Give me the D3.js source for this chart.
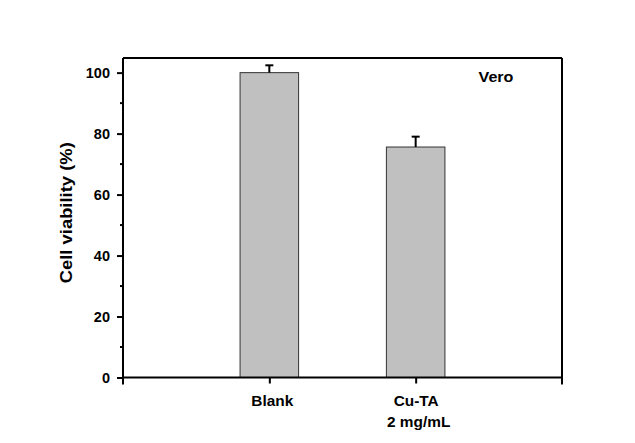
<!DOCTYPE html>
<html>
<head>
<meta charset="utf-8">
<script src="https://cdn.jsdelivr.net/npm/d3@7"></script>
<style>
  html, body { margin: 0; padding: 0; background: #fff; }
  svg { display: block; font-family: Arial, "Liberation Sans", sans-serif; }
</style>
</head>
<body>
<svg id="chart" width="635" height="443"></svg>
<script>
// Cell viability data
const categories = ["Blank", "Cu-TA\n2 mg/mL"];
const positions = [1, 2];
const viability = [100, 75.6];
const errors = [2.4, 3.4];
const yTicks = [0, 20, 40, 60, 80, 100];
const yMinorTicks = [10, 30, 50, 70, 90];

const svg = d3.select("#chart");
const plotLeft = 123, plotRight = 562, plotTop = 58, plotBottom = 377.5;

const x = d3.scaleLinear().domain([0, 3]).range([plotLeft, plotRight]);
const y = d3.scaleLinear().domain([0, 104.8]).range([plotBottom, plotTop]);
const barW = x(0.4) - x(0);

// Bars
svg.selectAll("rect.bar")
  .data(viability)
  .join("rect")
  .attr("class", "bar")
  .attr("x", (d, i) => x(positions[i]) - barW / 2)
  .attr("y", d => y(d))
  .attr("width", barW)
  .attr("height", d => y(0) - y(d))
  .attr("fill", "#c0c0c0")
  .attr("stroke", "#333")
  .attr("stroke-width", 1);

// Error bars (upper half only)
const eb = svg.append("g").attr("stroke", "#000").attr("stroke-width", 2);
viability.forEach((v, i) => {
  const cx = x(positions[i]);
  eb.append("line").attr("x1", cx).attr("x2", cx).attr("y1", y(v)).attr("y2", y(v + errors[i]));
  eb.append("line").attr("x1", cx - 4).attr("x2", cx + 4).attr("y1", y(v + errors[i])).attr("y2", y(v + errors[i]));
});

// Frame: top and right
svg.append("line").attr("x1", plotLeft).attr("x2", plotRight).attr("y1", plotTop).attr("y2", plotTop)
  .attr("stroke", "#000").attr("stroke-width", 2);
svg.append("line").attr("x1", plotRight).attr("x2", plotRight).attr("y1", plotTop).attr("y2", plotBottom + 7)
  .attr("stroke", "#000").attr("stroke-width", 2);

// Left axis
const yAxis = svg.append("g").attr("transform", `translate(${plotLeft},0)`)
  .call(d3.axisLeft(y).tickValues(yTicks).tickSize(6).tickPadding(7).tickFormat(d3.format("d")));
yAxis.select(".domain").remove();
yAxis.selectAll(".tick line").attr("stroke", "#000").attr("stroke-width", 2);
yAxis.selectAll(".tick text").attr("font-size", 14.5).attr("font-weight", "bold").attr("fill", "#000");
svg.append("g").selectAll("line").data(yMinorTicks).join("line")
  .attr("x1", plotLeft - 3).attr("x2", plotLeft).attr("y1", d => y(d)).attr("y2", d => y(d))
  .attr("stroke", "#000").attr("stroke-width", 2);
svg.append("line").attr("x1", plotLeft).attr("x2", plotLeft).attr("y1", plotTop).attr("y2", plotBottom + 7)
  .attr("stroke", "#000").attr("stroke-width", 2);

// Bottom axis
const xAxis = svg.append("g").attr("transform", `translate(0,${plotBottom})`)
  .call(d3.axisBottom(x).tickValues(positions).tickSize(6).tickFormat(""));
xAxis.select(".domain").remove();
xAxis.selectAll(".tick line").attr("stroke", "#000").attr("stroke-width", 2);
svg.append("line").attr("x1", plotLeft).attr("x2", plotRight).attr("y1", plotBottom).attr("y2", plotBottom)
  .attr("stroke", "#000").attr("stroke-width", 2);

// Category labels (one text per line, slightly widened like the original typesetting)
const labelStyle = { size: 14, widen: 1.1 };
function wideText(txt, cx, baseline, size, widen, anchor) {
  const t = svg.append("text")
    .attr("x", cx).attr("y", baseline)
    .attr("text-anchor", anchor || "middle")
    .attr("font-size", size).attr("font-weight", "bold").attr("fill", "#000")
    .text(txt);
  const w = t.node().getComputedTextLength();
  t.attr("textLength", w * widen).attr("lengthAdjust", "spacingAndGlyphs");
  return t;
}
const labelOffsets = [[3], [0.5, 3]];
categories.forEach((c, i) => {
  c.split("\n").forEach((line, j) => {
    wideText(line, x(positions[i]) + labelOffsets[i][j], 406 + j * 21, labelStyle.size, labelStyle.widen);
  });
});

// Axis title
svg.append("text")
  .attr("transform", `translate(72,${(plotTop + plotBottom) / 2 - 5}) rotate(-90)`)
  .attr("text-anchor", "middle").attr("font-size", 16.5).attr("font-weight", "bold").attr("fill", "#000")
  .attr("textLength", 141).attr("lengthAdjust", "spacingAndGlyphs")
  .text("Cell viability (%)");

// Cell line label
wideText("Vero", 496, 82.3, 14, 1.15);
</script>
</body>
</html>
